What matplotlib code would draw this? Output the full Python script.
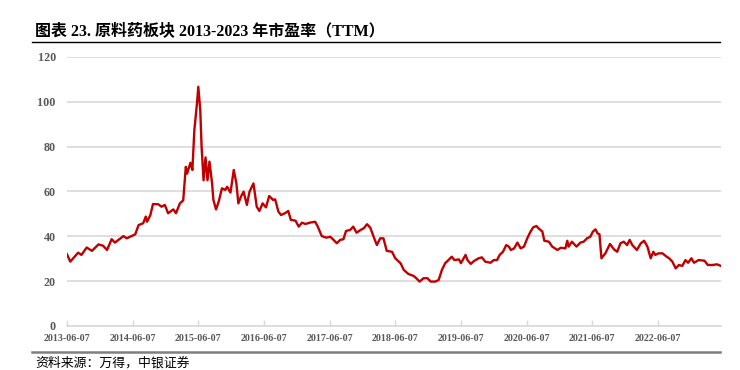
import numpy as np
import pandas as pd
import matplotlib
matplotlib.use("Agg")
import matplotlib.pyplot as plt
from matplotlib.lines import Line2D

# time as decimal year, PE (TTM)
years = [2013.43, 2013.48, 2013.55, 2013.60, 2013.65, 2013.73, 2013.81, 2013.91, 2013.98, 2014.04,
         2014.11, 2014.16, 2014.29, 2014.34, 2014.47, 2014.52, 2014.59, 2014.63, 2014.65, 2014.70,
         2014.74, 2014.82, 2014.87, 2014.92, 2014.97, 2015.05, 2015.09, 2015.15, 2015.20, 2015.24,
         2015.26, 2015.31, 2015.34, 2015.37, 2015.41, 2015.43, 2015.46, 2015.48, 2015.51, 2015.54,
         2015.57, 2015.60, 2015.64, 2015.66, 2015.70, 2015.74, 2015.79, 2015.84, 2015.87, 2015.92,
         2015.97, 2016.01, 2016.04, 2016.08, 2016.12, 2016.17, 2016.21, 2016.27, 2016.32, 2016.36,
         2016.41, 2016.46, 2016.51, 2016.57, 2016.60, 2016.65, 2016.69, 2016.75, 2016.80, 2016.84,
         2016.91, 2016.96, 2017.01, 2017.06, 2017.13, 2017.21, 2017.25, 2017.31, 2017.38, 2017.44,
         2017.49, 2017.54, 2017.59, 2017.64, 2017.68, 2017.74, 2017.79, 2017.84, 2017.90, 2017.95,
         2018.00, 2018.05, 2018.10, 2018.15, 2018.20, 2018.25, 2018.30, 2018.38, 2018.43, 2018.51,
         2018.56, 2018.63, 2018.71, 2018.75, 2018.80, 2018.86, 2018.92, 2018.97, 2019.04, 2019.09,
         2019.14, 2019.19, 2019.24, 2019.29, 2019.33, 2019.40, 2019.43, 2019.50, 2019.53, 2019.58,
         2019.63, 2019.70, 2019.75, 2019.80, 2019.88, 2019.93, 2019.98, 2020.02, 2020.07, 2020.12,
         2020.16, 2020.19, 2020.24, 2020.29, 2020.34, 2020.39, 2020.44, 2020.49, 2020.53, 2020.58,
         2020.61, 2020.67, 2020.70, 2020.77, 2020.82, 2020.90, 2020.95, 2021.02, 2021.05, 2021.07,
         2021.12, 2021.19, 2021.25, 2021.30, 2021.35, 2021.40, 2021.44, 2021.48, 2021.51, 2021.54,
         2021.57, 2021.63, 2021.70, 2021.76, 2021.81, 2021.86, 2021.91, 2021.96, 2022.00, 2022.04,
         2022.11, 2022.17, 2022.22, 2022.27, 2022.32, 2022.36, 2022.39, 2022.44, 2022.50, 2022.55,
         2022.60, 2022.65, 2022.70, 2022.75, 2022.80, 2022.85, 2022.89, 2022.94, 2022.98, 2023.05,
         2023.14, 2023.19, 2023.26, 2023.33, 2023.38]
pe = [32.0, 28.7, 31.0, 32.7, 31.7, 35.0, 33.5, 36.4, 35.8, 33.9,
      38.7, 37.2, 40.1, 39.1, 40.9, 45.0, 45.8, 48.8, 46.5, 49.5,
      54.4, 54.3, 53.2, 54.0, 50.3, 52.0, 50.3, 54.7, 56.0, 71.0,
      68.0, 72.8, 69.6, 87.4, 99.3, 106.7, 96.3, 80.0, 65.0, 75.2,
      65.0, 73.3, 63.6, 56.2, 52.0, 55.4, 61.4, 60.7, 62.1, 59.5,
      69.6, 63.6, 54.7, 57.7, 59.9, 54.0, 59.9, 63.6, 53.2, 51.3,
      54.7, 52.9, 58.0, 56.2, 56.5, 51.0, 49.5, 50.3, 51.3, 47.3,
      47.0, 44.3, 46.1, 45.5, 46.1, 46.5, 44.3, 40.1, 39.4, 39.8,
      38.4, 36.9, 38.4, 38.7, 42.4, 42.8, 44.3, 41.6, 42.8, 43.6,
      45.4, 43.8, 39.8, 36.1, 39.1, 39.1, 33.5, 33.1, 30.2, 28.0,
      25.0, 23.2, 22.3, 21.3, 19.8, 21.3, 21.3, 19.8, 19.8, 20.5,
      25.0, 28.0, 29.4, 30.9, 29.4, 29.7, 28.0, 31.7, 29.4, 27.7,
      29.0, 30.2, 30.6, 28.7, 28.2, 29.4, 29.4, 31.7, 33.1, 36.1,
      35.4, 33.9, 34.6, 37.2, 34.6, 35.4, 39.1, 42.1, 44.0, 44.6,
      43.6, 42.1, 38.0, 37.6, 35.4, 33.9, 34.9, 34.6, 38.0, 35.4,
      37.6, 35.4, 37.2, 37.6, 39.1, 39.8, 42.1, 43.1, 41.3, 40.9,
      30.2, 32.4, 36.6, 34.2, 33.1, 36.9, 37.6, 36.1, 38.4, 36.1,
      33.9, 36.9, 38.0, 35.4, 30.2, 33.1, 31.7, 32.4, 32.4, 31.2,
      30.2, 28.7, 25.7, 27.2, 26.8, 29.4, 28.2, 30.2, 28.2, 29.4,
      29.1, 27.2, 27.2, 27.5, 26.9]

tick_labels = ["2013-06-07", "2014-06-07", "2015-06-07", "2016-06-07", "2017-06-07",
               "2018-06-07", "2019-06-07", "2020-06-07", "2021-06-07", "2022-06-07"]

title = "图表 23. 原料药板块 2013-2023 年市盈率（TTM）"
source = "资料来源：万得，中银证券"

start = pd.Timestamp("2013-01-01")
dates = [start + pd.Timedelta(days=(y - 2013) * 365.25) for y in years]
ticks = pd.to_datetime(tick_labels)

fonts = ["Liberation Serif", "Noto Sans CJK SC"]
grey = "#595959"
grid_c = "#d9d9d9"

fig = plt.figure(figsize=(7.4, 3.7), dpi=100)
ax = fig.add_axes([0.0905, 0.119, 0.884, 0.727])

ax.plot(dates, pe, color="#c00000", lw=1.7, solid_joinstyle="round")

ax.set_ylim(0, 120)
ax.set_yticks(np.arange(0, 121, 20))
ax.set_xlim(pd.Timestamp("2013-06-07"), pd.Timestamp("2023-05-25"))
ax.set_xticks(ticks)
ax.set_xticklabels(tick_labels)

ax.grid(axis="y", color=grid_c, lw=1.2)
ax.set_axisbelow(True)
for s in ["top", "right", "left"]:
    ax.spines[s].set_visible(False)
ax.spines["bottom"].set_color(grid_c)
ax.spines["bottom"].set_linewidth(1.2)

ax.tick_params(axis="y", length=0, pad=8, labelsize=8.7, labelcolor=grey)
ax.tick_params(axis="x", direction="in", length=4, width=1, color=grid_c,
               pad=6, labelsize=7.2, labelcolor=grey)
for lab in ax.get_xticklabels() + ax.get_yticklabels():
    lab.set_fontfamily(fonts)
    lab.set_fontweight("bold")

# title and source with rules
fig.text(35 / 740, 1 - 31 / 370, title, family=fonts, fontweight="bold",
         fontsize=11.5, va="center", ha="left", color="black")
fig.add_artist(Line2D([32 / 740, 720 / 740], [1 - 42 / 370] * 2, color="black", lw=1.0))
fig.add_artist(Line2D([32 / 740, 720 / 740], [1 - 352 / 370] * 2, color="#7f7f7f", lw=1.8))
fig.text(35 / 740, 1 - 363 / 370, source, family=fonts, fontsize=9.3,
         va="center", ha="left", color="black")

fig.savefig("out.png", dpi=100)
